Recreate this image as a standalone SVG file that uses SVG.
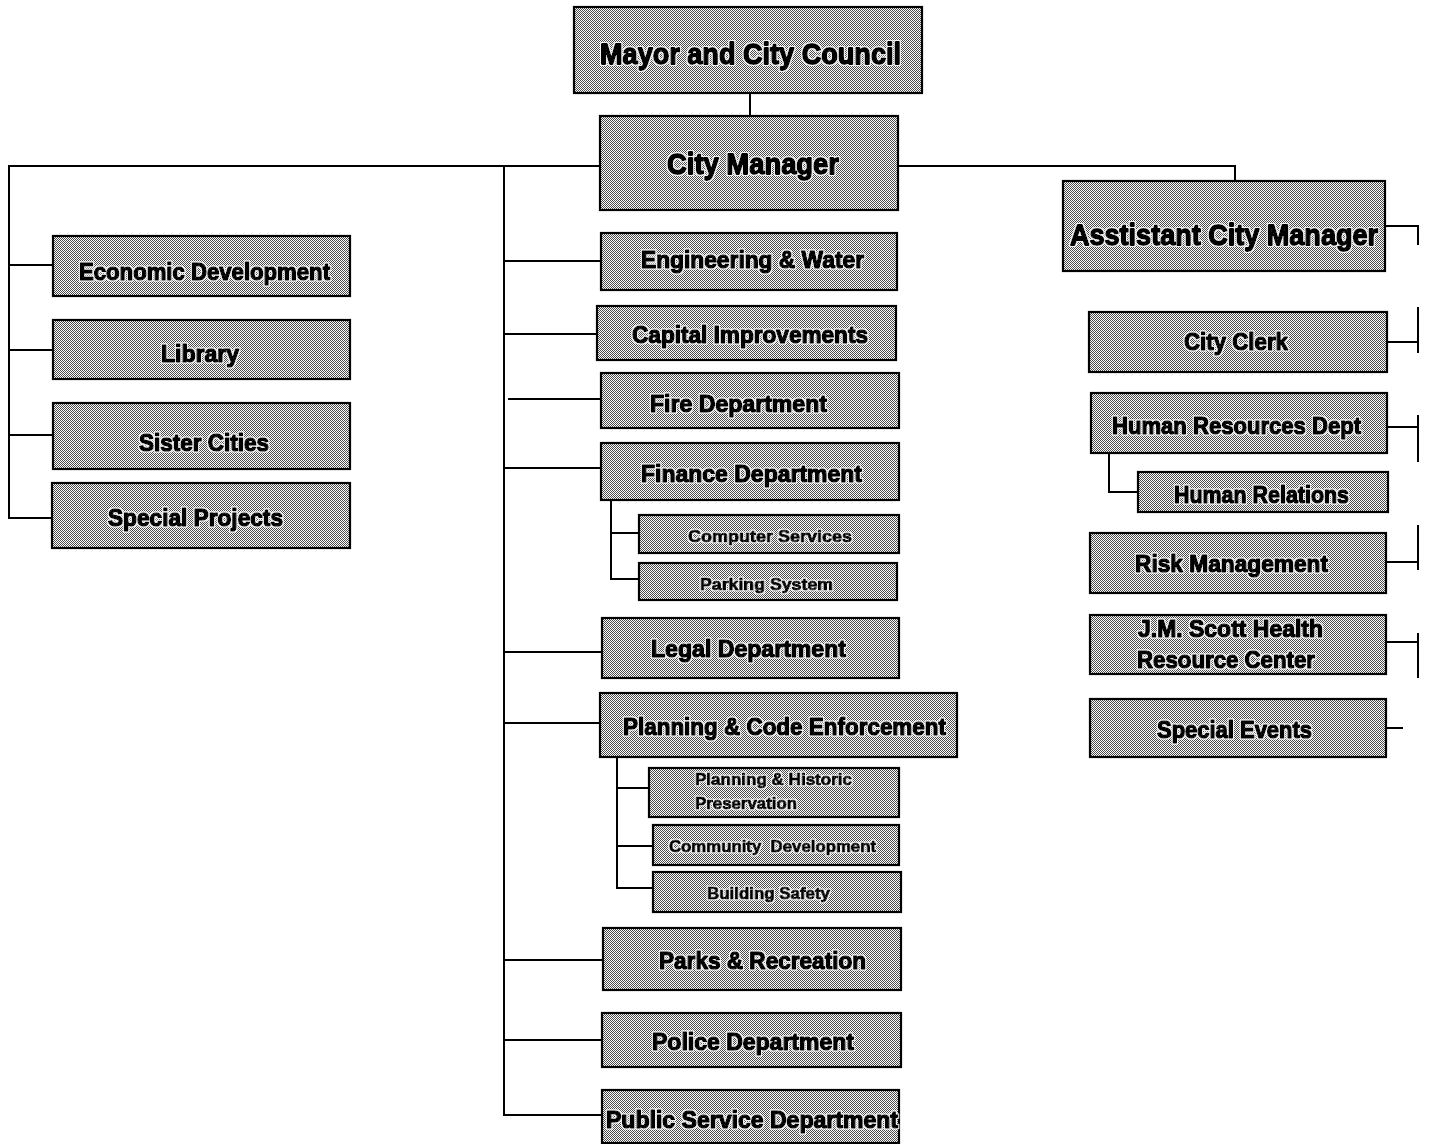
<svg xmlns="http://www.w3.org/2000/svg" width="1431" height="1144" viewBox="0 0 1431 1144">
<defs>
<pattern id="dither" x="0" y="0" width="2" height="2" patternUnits="userSpaceOnUse">
<rect x="0" y="0" width="2" height="2" fill="#ffffff"/>
<rect x="0" y="0" width="1" height="1" fill="#4a4a4a"/>
<rect x="1" y="1" width="1" height="1" fill="#4a4a4a"/>
</pattern>
<filter id="halo" x="-5%" y="-20%" width="110%" height="140%">
<feMorphology in="SourceAlpha" operator="dilate" radius="1.2" result="d"/>
<feFlood flood-color="#ffffff" flood-opacity="0.85"/>
<feComposite in2="d" operator="in" result="h"/>
<feMerge><feMergeNode in="h"/><feMergeNode in="SourceGraphic"/></feMerge>
</filter>
</defs>
<style>
.box{fill:url(#dither);stroke:#000;stroke-width:2.2}
.t{font-family:"Liberation Sans Narrow","Liberation Sans",Arial,sans-serif;font-weight:bold;fill:#000;stroke:#000;stroke-width:1.6;stroke-linejoin:round;filter:url(#halo)}
.xl{font-size:30px;stroke-width:1.8}
.m{font-size:24px}
.s{font-size:17px;stroke-width:1.1}
.c{fill:none;stroke:#000;stroke-width:2}
</style>
<rect x="0" y="0" width="1431" height="1144" fill="#ffffff"/>
<g id="connectors">
<path class="c" d="M750 93 V116"/>
<path class="c" d="M601 166 H9 V518 H52 M9 265 H54 M9 350 H53 M9 435 H53"/>
<path class="c" d="M897 166 H1235 V181"/>
<path class="c" d="M504 166 V1115 H602 M504 261 H601 M504 334 H597 M508 399 H601 M504 468 H601 M504 652 H602 M504 723 H600 M504 960 H603 M504 1040 H602"/>
<path class="c" d="M611 500 V579 H639 M611 533 H639"/>
<path class="c" d="M617 757 V888 H653 M617 788 H649 M617 846 H653"/>
<path class="c" d="M1109 453 V492 H1138"/>
<path class="c" d="M1385 226 H1418 V245"/>
<path class="c" d="M1387 342 H1418 M1418 307 V353"/>
<path class="c" d="M1387 427 H1418 M1418 415 V462"/>
<path class="c" d="M1386 562 H1418 M1418 525 V570"/>
<path class="c" d="M1386 642 H1418 M1418 633 V678"/>
<path class="c" d="M1386 728 H1403"/>
</g>
<g id="mayor"><rect class="box" x="574" y="7" width="348" height="86"/><text class="t xl" x="600" y="64" textLength="301" lengthAdjust="spacingAndGlyphs">Mayor and City  Council</text></g>
<g id="city-manager"><rect class="box" x="600" y="116" width="298" height="94"/><text class="t xl" x="667" y="174" textLength="172" lengthAdjust="spacingAndGlyphs">City Manager</text></g>
<g id="assistant-city-manager"><rect class="box" x="1063" y="181" width="322" height="90"/><text class="t xl" x="1070" y="245" textLength="308" lengthAdjust="spacingAndGlyphs">Asstistant City Manager</text></g>
<g id="economic-development"><rect class="box" x="53" y="236" width="297" height="60"/><text class="t m" x="79" y="280" textLength="251" lengthAdjust="spacingAndGlyphs">Economic Development</text></g>
<g id="library"><rect class="box" x="53" y="320" width="297" height="59"/><text class="t m" x="161" y="362" textLength="78" lengthAdjust="spacingAndGlyphs">Library</text></g>
<g id="sister-cities"><rect class="box" x="53" y="403" width="297" height="66"/><text class="t m" x="139" y="451" textLength="130" lengthAdjust="spacingAndGlyphs">Sister Cities</text></g>
<g id="special-projects"><rect class="box" x="52" y="483" width="298" height="65"/><text class="t m" x="108" y="526" textLength="175" lengthAdjust="spacingAndGlyphs">Special Projects</text></g>
<g id="engineering-water"><rect class="box" x="601" y="233" width="296" height="57"/><text class="t m" x="641" y="268" textLength="223" lengthAdjust="spacingAndGlyphs">Engineering &amp; Water</text></g>
<g id="capital-improvements"><rect class="box" x="597" y="306" width="299" height="54"/><text class="t m" x="632" y="343" textLength="236" lengthAdjust="spacingAndGlyphs">Capital Improvements</text></g>
<g id="fire-department"><rect class="box" x="601" y="373" width="298" height="55"/><text class="t m" x="650" y="412" textLength="177" lengthAdjust="spacingAndGlyphs">Fire Department</text></g>
<g id="finance-department"><rect class="box" x="601" y="443" width="298" height="57"/><text class="t m" x="641" y="482" textLength="221" lengthAdjust="spacingAndGlyphs">Finance Department</text></g>
<g id="computer-services"><rect class="box" x="639" y="515" width="260" height="38"/><text class="t s" x="688" y="542" textLength="164" lengthAdjust="spacingAndGlyphs">Computer Services</text></g>
<g id="parking-system"><rect class="box" x="639" y="563" width="258" height="37"/><text class="t s" x="700" y="590" textLength="133" lengthAdjust="spacingAndGlyphs">Parking System</text></g>
<g id="legal-department"><rect class="box" x="602" y="618" width="297" height="60"/><text class="t m" x="651" y="657" textLength="195" lengthAdjust="spacingAndGlyphs">Legal Department</text></g>
<g id="planning-code"><rect class="box" x="600" y="693" width="357" height="64"/><text class="t m" x="623" y="735" textLength="323" lengthAdjust="spacingAndGlyphs">Planning &amp; Code Enforcement</text></g>
<g id="planning-historic"><rect class="box" x="649" y="768" width="250" height="49"/><text class="t s" x="695" y="785" textLength="157" lengthAdjust="spacingAndGlyphs">Planning &amp; Historic</text><text class="t s" x="695" y="809" textLength="102" lengthAdjust="spacingAndGlyphs">Preservation</text></g>
<g id="community-development"><rect class="box" x="653" y="825" width="246" height="40"/><text class="t s" x="669" y="852" textLength="207" lengthAdjust="spacingAndGlyphs" xml:space="preserve">Community  Development</text></g>
<g id="building-safety"><rect class="box" x="653" y="872" width="248" height="40"/><text class="t s" x="707" y="899" textLength="123" lengthAdjust="spacingAndGlyphs">Building Safety</text></g>
<g id="parks-recreation"><rect class="box" x="603" y="928" width="298" height="62"/><text class="t m" x="659" y="969" textLength="207" lengthAdjust="spacingAndGlyphs">Parks &amp; Recreation</text></g>
<g id="police-department"><rect class="box" x="602" y="1013" width="299" height="54"/><text class="t m" x="652" y="1050" textLength="202" lengthAdjust="spacingAndGlyphs">Police Department</text></g>
<g id="public-service"><rect class="box" x="602" y="1090" width="297" height="53"/><text class="t m" x="606" y="1128" textLength="292" lengthAdjust="spacingAndGlyphs">Public Service Department</text></g>
<g id="city-clerk"><rect class="box" x="1089" y="312" width="298" height="60"/><text class="t m" x="1184" y="350" textLength="104" lengthAdjust="spacingAndGlyphs">City Clerk</text></g>
<g id="human-resources"><rect class="box" x="1091" y="393" width="296" height="60"/><text class="t m" x="1112" y="434" textLength="249" lengthAdjust="spacingAndGlyphs">Human Resources Dept</text></g>
<g id="human-relations"><rect class="box" x="1138" y="472" width="250" height="40"/><text class="t m" x="1174" y="503" textLength="175" lengthAdjust="spacingAndGlyphs">Human Relations</text></g>
<g id="risk-management"><rect class="box" x="1090" y="533" width="296" height="60"/><text class="t m" x="1135" y="572" textLength="193" lengthAdjust="spacingAndGlyphs">Risk Management</text></g>
<g id="jm-scott"><rect class="box" x="1090" y="615" width="296" height="59"/><text class="t m" x="1138" y="637" textLength="185" lengthAdjust="spacingAndGlyphs">J.M. Scott Health</text><text class="t m" x="1137" y="668" textLength="178" lengthAdjust="spacingAndGlyphs">Resource Center</text></g>
<g id="special-events"><rect class="box" x="1090" y="699" width="296" height="58"/><text class="t m" x="1157" y="738" textLength="155" lengthAdjust="spacingAndGlyphs">Special Events</text></g>
</svg>
